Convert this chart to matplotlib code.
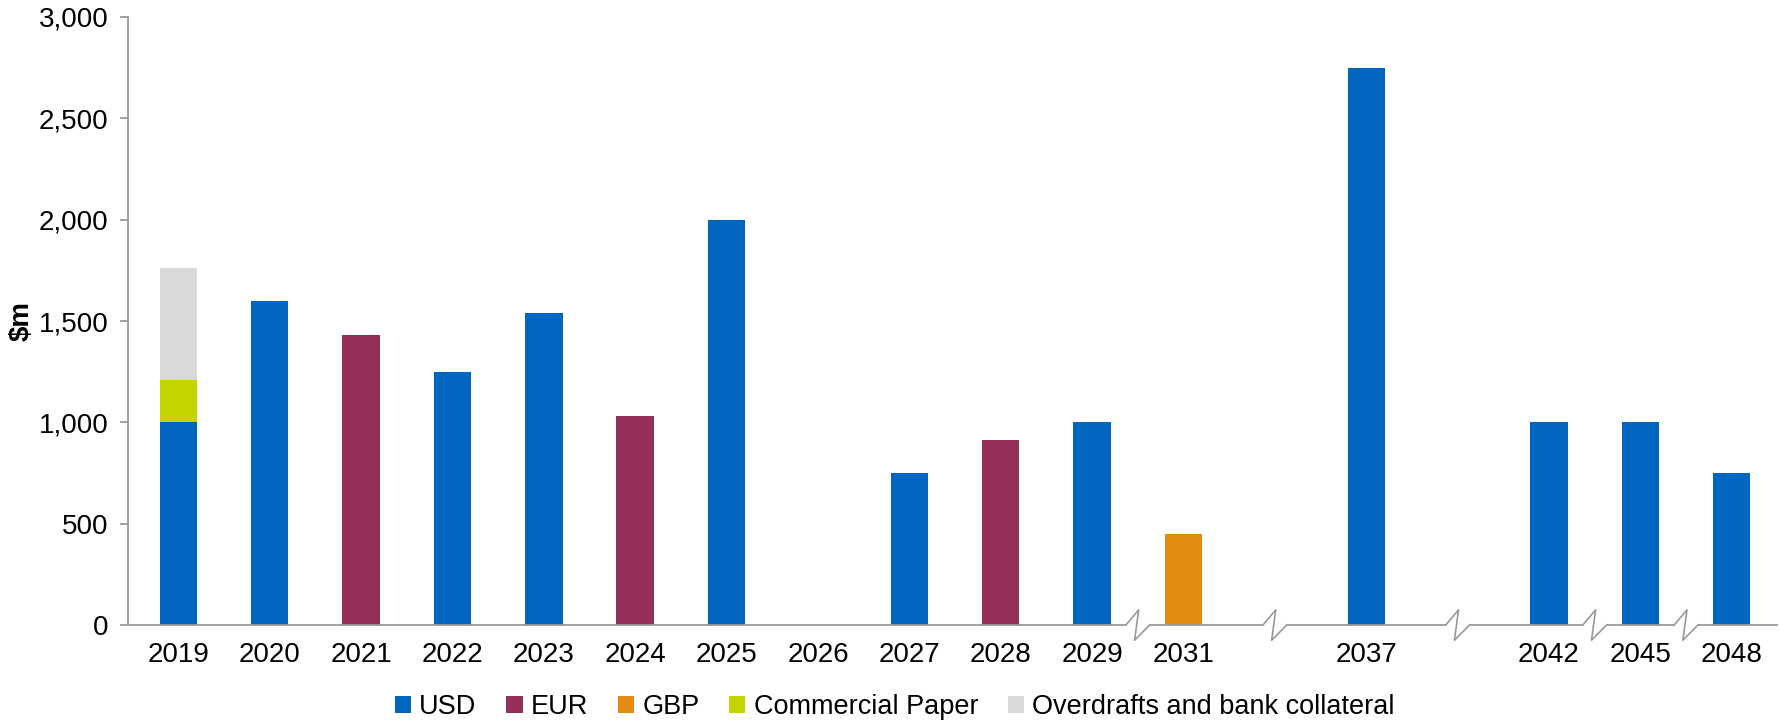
import matplotlib
matplotlib.use("Agg")
import matplotlib.pyplot as plt
from matplotlib.transforms import blended_transform_factory
from matplotlib.ticker import FuncFormatter
import numpy as np

plt.rcParams["font.family"] = ["Liberation Sans", "DejaVu Sans"]

# Maturity years shown on the category axis (blank slots hold the axis breaks)
years = ["2019", "2020", "2021", "2022", "2023", "2024", "2025", "2026", "2027",
         "2028", "2029", "2031", "", "2037", "", "2042", "2045", "2048"]

# Amounts in $m per category and instrument
usd = [1000, 1600, 0, 1250, 1540, 0, 2000, 0, 750, 0, 1000, 0, 0, 2750, 0, 1000, 1000, 750]
eur = [0, 0, 1430, 0, 0, 1030, 0, 0, 0, 915, 0, 0, 0, 0, 0, 0, 0, 0]
gbp = [0, 0, 0, 0, 0, 0, 0, 0, 0, 0, 0, 450, 0, 0, 0, 0, 0, 0]
commercial_paper = [210, 0, 0, 0, 0, 0, 0, 0, 0, 0, 0, 0, 0, 0, 0, 0, 0, 0]
overdrafts = [550, 0, 0, 0, 0, 0, 0, 0, 0, 0, 0, 0, 0, 0, 0, 0, 0, 0]

# Axis break positions (category index units)
breaks = [10.5, 12, 14, 15.5, 16.5]

series = [
    ("USD", usd, "#0066C0"),
    ("EUR", eur, "#93305A"),
    ("GBP", gbp, "#E38A10"),
    ("Commercial Paper", commercial_paper, "#C4D600"),
    ("Overdrafts and bank collateral", overdrafts, "#D9D9D9"),
]

fig = plt.figure(figsize=(17.81, 7.23), dpi=100)
ax = fig.add_axes([0.0719, 0.1355, 0.9261, 0.841])

x = np.arange(len(years))
bottom = np.zeros(len(years))
handles = []
for name, vals, color in series:
    vals = np.array(vals, dtype=float)
    b = ax.bar(x, vals, width=0.41, bottom=bottom, color=color, label=name,
               linewidth=0)
    handles.append(b)
    bottom += vals

ax.set_xlim(-0.55, 17.5)
ax.set_ylim(0, 3000)
ax.set_yticks(np.arange(0, 3001, 500))
ax.yaxis.set_major_formatter(FuncFormatter(lambda v, p: f"{int(v):,}"))
ax.set_xticks(x)
ax.set_xticklabels(years)

axis_color = "#999999"
for side in ("top", "right"):
    ax.spines[side].set_visible(False)
for side in ("left", "bottom"):
    ax.spines[side].set_color(axis_color)
    ax.spines[side].set_linewidth(1.3)

ax.tick_params(axis="y", direction="out", length=6, width=1.3, color=axis_color,
               labelsize=20, pad=8)
ax.tick_params(axis="x", length=0, labelsize=20, pad=12)
ax.set_ylabel("$m", fontsize=20, fontweight="bold", labelpad=3)

# Zig-zag break marks on the category axis
trans = blended_transform_factory(ax.transData, ax.transAxes)
d = 0.13
h = 0.025
for bx in breaks:
    ax.plot([bx - d + 0.02, bx + d - 0.02], [0, 0], color="white", linewidth=3,
            transform=trans, clip_on=False, zorder=4)
    ax.plot([bx - d, bx + 0.01, bx - 0.035, bx + d],
            [0, h, -h, 0], color=axis_color, linewidth=1.2,
            transform=trans, clip_on=False, zorder=5)

leg = fig.legend(handles=handles, labels=[s[0] for s in series],
                 loc="lower center", bbox_to_anchor=(0.5025, -0.03), ncol=5,
                 frameon=False, fontsize=19.5, handlelength=0.6, handleheight=0.6,
                 handletextpad=0.3, columnspacing=1.1)

fig.savefig("out.png", dpi=100)
